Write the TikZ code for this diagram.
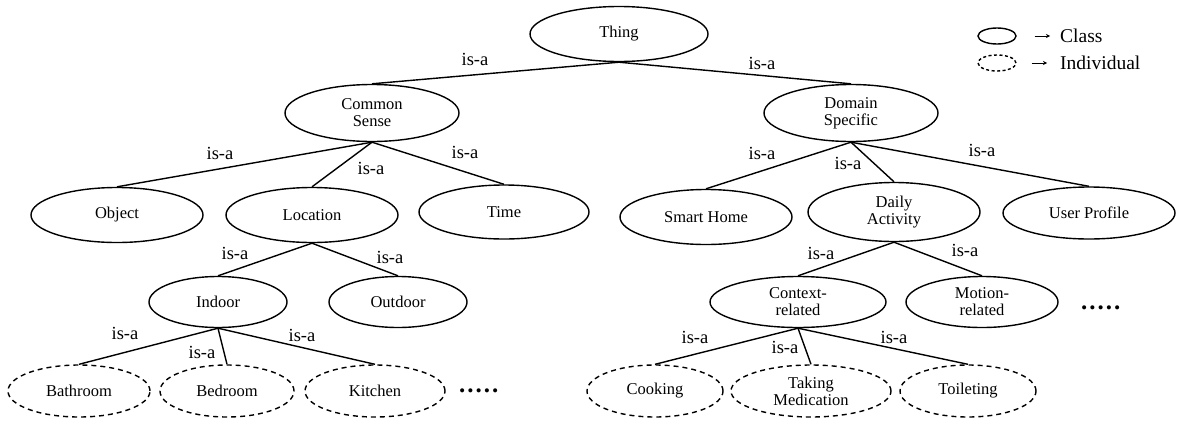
\documentclass[tikz,border=0pt]{standalone}
\usepackage{fontspec}
\setmainfont{Liberation Serif}
\usetikzlibrary{shapes.geometric,arrows.meta}

\tikzset{
  cls/.style={ellipse, draw, line width=1.4pt, inner sep=0pt, align=center,
    font=\fontsize{16.5}{17}\selectfont},
  indiv/.style={cls, dash pattern=on 5pt off 4pt},
  isa/.style={inner sep=0pt, font=\fontsize{18.5}{20}\selectfont},
  link/.style={line width=1.4pt},
  more/.style={inner sep=0pt, anchor=base west, font=\fontsize{25}{25}\bfseries},
}

\begin{document}
\begin{tikzpicture}[x=1pt,y=-1pt]
  \useasboundingbox (0,0) rectangle (1177,421);
  % classes
  \node[cls, minimum width=178, minimum height=55] (thing) at (619,34) {Thing};
  \node[cls, minimum width=174, minimum height=57] (common) at (372,113) {Common\\Sense};
  \node[cls, minimum width=174, minimum height=57] (domain) at (851,113) {Domain\\Specific};
  \node[cls, minimum width=172, minimum height=55] (object) at (117,215) {Object};
  \node[cls, minimum width=172, minimum height=55] (location) at (312,215) {Location};
  \node[cls, minimum width=170, minimum height=54] (time) at (504,212) {Time};
  \node[cls, minimum width=172, minimum height=55] (smarthome) at (706,217) {Smart Home};
  \node[cls, minimum width=172, minimum height=59] (daily) at (894,212) {Daily\\Activity};
  \node[cls, minimum width=172, minimum height=52] (profile) at (1089,213) {User Profile};
  \node[cls, minimum width=138, minimum height=51] (indoor) at (218,302) {Indoor};
  \node[cls, minimum width=138, minimum height=51] (outdoor) at (398,302) {Outdoor};
  \node[cls, minimum width=176, minimum height=51] (context) at (798,302) {Context-\\related};
  \node[cls, minimum width=152, minimum height=51] (motion) at (982,302) {Motion-\\related};
  % individuals
  \node[indiv, minimum width=142, minimum height=52] (bathroom) at (79,391) {Bathroom};
  \node[indiv, minimum width=134, minimum height=52] (bedroom) at (227,391) {Bedroom};
  \node[indiv, minimum width=140, minimum height=52] (kitchen) at (375,391) {Kitchen};
  \node[indiv, minimum width=136, minimum height=52] (cooking) at (655,391) {Cooking};
  \node[indiv, minimum width=160, minimum height=52] (medication) at (811,391) {Taking\\Medication};
  \node[indiv, minimum width=136, minimum height=52] (toileting) at (968,391) {Toileting};
  \node[more] (moreroom) at (459,392) {.\kern2pt.\kern2pt.\kern2pt.\kern2pt.};
  \node[more] (moreact) at (1081,309) {.\kern2pt.\kern2pt.\kern2pt.\kern2pt.};

  % is-a links
  \draw[link] (thing.south) -- (common.north);
  \draw[link] (thing.south) -- (domain.north);
  \draw[link] (common.south) -- (object.north);
  \draw[link] (common.south) -- (location.north);
  \draw[link] (common.south) -- (time.north);
  \draw[link] (domain.south) -- (smarthome.north);
  \draw[link] (domain.south) -- (daily.north);
  \draw[link] (domain.south) -- (profile.north);
  \draw[link] (location.south) -- (indoor.north);
  \draw[link] (location.south) -- (outdoor.north);
  \draw[link] (indoor.south) -- (bathroom.north);
  \draw[link] (indoor.south) -- (bedroom.north);
  \draw[link] (indoor.south) -- (kitchen.north);
  \draw[link] (daily.south) -- (context.north);
  \draw[link] (daily.south) -- (motion.north);
  \draw[link] (context.south) -- (cooking.north);
  \draw[link] (context.south) -- (medication.north);
  \draw[link] (context.south) -- (toileting.north);

  \node[isa] (tc) at (475,59) {is-a};
  \node[isa] (td) at (762,63) {is-a};
  \node[isa] (co) at (220,153) {is-a};
  \node[isa] (cl) at (371,168) {is-a};
  \node[isa] (ct) at (465,152) {is-a};
  \node[isa] (ds) at (762,153) {is-a};
  \node[isa] (dd) at (848,163) {is-a};
  \node[isa] (du) at (982,150) {is-a};
  \node[isa] (li) at (235,253) {is-a};
  \node[isa] (lo) at (390,257) {is-a};
  \node[isa] (iba) at (125,333) {is-a};
  \node[isa] (ibe) at (202,352) {is-a};
  \node[isa] (iki) at (302,335) {is-a};
  \node[isa] (ac) at (821,253) {is-a};
  \node[isa] (am) at (965,250) {is-a};
  \node[isa] (cco) at (695,337) {is-a};
  \node[isa] (cme) at (785,347) {is-a};
  \node[isa] (cto) at (894,337) {is-a};

  % legend
  \node[cls, minimum width=38, minimum height=16] (keycls) at (997,36) {};
  \node[indiv, dash pattern=on 3pt off 2.5pt, minimum width=38, minimum height=16] (keyind) at (997,63) {};
  \node[isa, anchor=west, font=\fontsize{19.5}{21}\selectfont] (keyclstxt) at (1060,36) {Class};
  \node[isa, anchor=west, font=\fontsize{19.5}{21}\selectfont] (keyindtxt) at (1060,63) {Individual};
  \draw[line width=1pt, -{Stealth[length=4pt,width=4pt]}] ([xshift=18pt]keycls.east) -- ([xshift=-10pt]keyclstxt.west);
  \draw[line width=1pt, -{Stealth[length=4pt,width=4pt]}] ([xshift=15pt]keyind.east) -- ([xshift=-13pt]keyindtxt.west);
\end{tikzpicture}
\end{document}
